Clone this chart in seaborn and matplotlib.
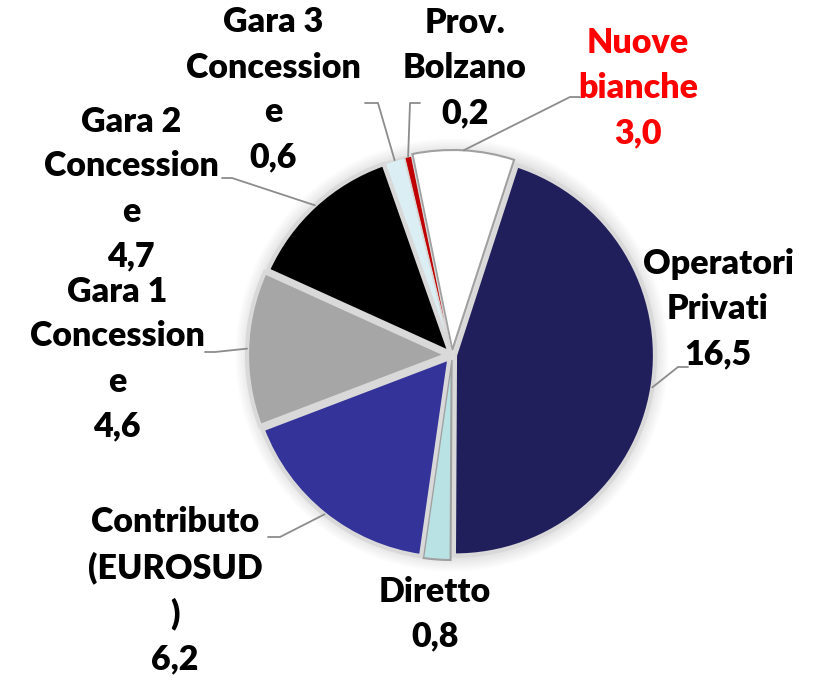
import numpy as np
import matplotlib
matplotlib.use('Agg')
import matplotlib.pyplot as plt
import seaborn as sns

# data (clockwise from top)
labels = ['Nuove\nbianche', 'Operatori\nPrivati', 'Diretto', 'Contributo\n(EUROSUD\n)',
          'Gara 1\nConcession\ne', 'Gara 2\nConcession\ne', 'Gara 3\nConcession\ne', 'Prov.\nBolzano']
values = [3.0, 16.5, 0.8, 6.2, 4.6, 4.7, 0.6, 0.2]
colors = ['#ffffff', '#211f5b', '#b9e2e5', '#333399', '#a6a6a6', '#000000', '#daeef3', '#c00000']
explode = [5, 3, 5, 4, 5, 3, 3, 3]
text_colors = ['#ff0000'] + ['#000000'] * 7

# label centres (pixels, y from top) and leader stub (text end, knee); None = no leader
label_pos = [(638, 88), (718, 309), (435, 614), (175, 591),
             (117, 359), (131, 189), (273, 90), (465, 68)]
stubs = [((580, 97), (570, 97)), ((688, 367), (678, 367)), None, ((268, 537), (280, 537)),
         ((205, 352), (215, 352)), ((222, 178), (232, 178)), ((365, 103), (378, 103)),
         ((420, 103), (410, 103))]

W, H = 821, 680
sns.set_theme(style='white')
plt.rcParams['font.family'] = ['Lato', 'DejaVu Sans']

fig = plt.figure(figsize=(W / 100, H / 100), dpi=100)
ax = fig.add_axes([0, 0, 1, 1])

cx, cy, r = 452, H - 355, 200

# soft glow behind pie
for k in range(10):
    ax.add_patch(plt.Circle((cx, cy), r + 3 + k * 1.5, color='#000000', alpha=0.012, lw=0, zorder=0))

wedges, _ = ax.pie(values, colors=colors, explode=explode, startangle=101.5, counterclock=False,
                   center=(cx, cy), radius=r, frame=True,
                   wedgeprops=dict(edgecolor='#d9d9d9', linewidth=3))
ax.set_xlim(0, W)
ax.set_ylim(0, H)
ax.axis('off')
for i in (0, 2):
    wedges[i].set_edgecolor('#a0a0a0')
    wedges[i].set_linewidth(1.5)
wedges[7].set_linewidth(0.8)
wedges[6].set_linewidth(1.5)

for i, w in enumerate(wedges):
    val = ('%.1f' % values[i]).replace('.', ',')
    tx, ty = label_pos[i]
    ax.text(tx, H - ty, labels[i] + '\n' + val, ha='center', va='center', multialignment='center',
            fontsize=24.5, fontweight='heavy', color=text_colors[i], linespacing=1.5)
    if stubs[i] is not None:
        ang = np.deg2rad((w.theta1 + w.theta2) / 2)
        ex = w.center[0] + w.r * np.cos(ang)
        ey = w.center[1] + w.r * np.sin(ang)
        (ax1, ay1), (kx, ky) = stubs[i]
        ax.plot([ax1, kx, ex], [H - ay1, H - ky, ey], color='#8c8c8c', lw=1.3, zorder=5)

fig.savefig('out.png', dpi=100)
